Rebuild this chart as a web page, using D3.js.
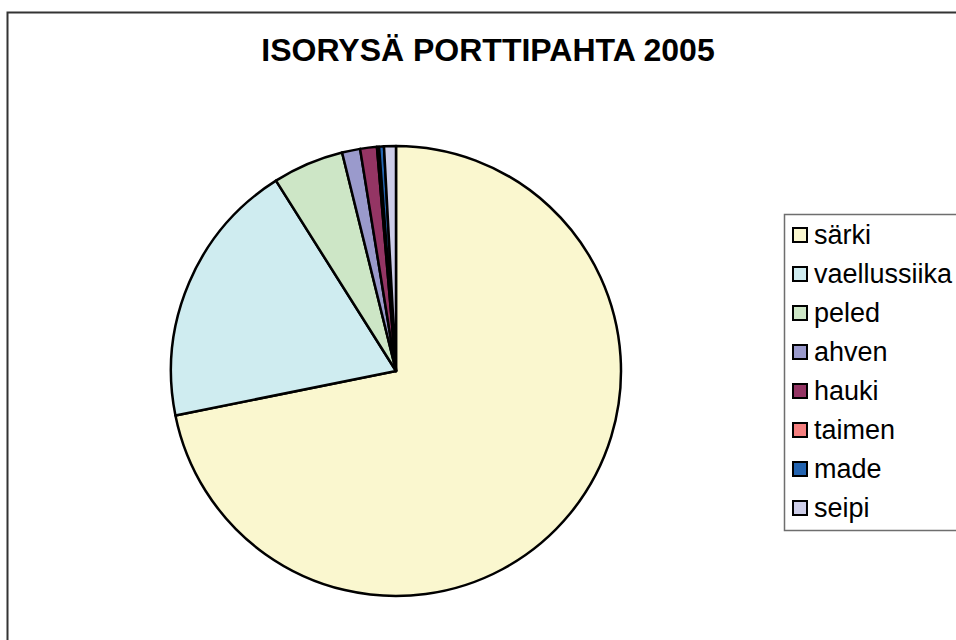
<!DOCTYPE html>
<html>
<head>
<meta charset="utf-8">
<script src="https://cdn.jsdelivr.net/npm/d3@7"></script>
<style>
  body { margin: 0; background: #fff; }
  svg { display: block; font-family: Arial, "Liberation Sans", sans-serif; }
</style>
</head>
<body>
<svg id="chart" width="956" height="640"></svg>
<script>
var title = "ISORYSÄ PORTTIPAHTA 2005";
var species = ["särki", "vaellussiika", "peled", "ahven", "hauki", "taimen", "made", "seipi"];
var shares = [71.8, 19.2, 5.1, 1.3, 1.2, 0.15, 0.35, 0.85];
var colors = ["#faf7cf", "#cfecf0", "#cde6c6", "#9a9acc", "#943564", "#f47f7f", "#2464b0", "#cdcde8"];

var svg = d3.select("#chart");

// outer chart frame (runs off the right and bottom edges)
svg.append("rect")
    .attr("x", 7.5).attr("y", 12.5)
    .attr("width", 1000).attr("height", 700)
    .attr("fill", "none")
    .attr("stroke", "#333")
    .attr("stroke-width", 2);

svg.append("text")
    .attr("x", 488).attr("y", 61)
    .attr("text-anchor", "middle")
    .attr("font-size", 32)
    .attr("font-weight", "bold")
    .text(title);

var data = species.map(function (d, i) { return { name: d, value: shares[i], color: colors[i] }; });

var pie = d3.pie().sort(null).value(function (d) { return d.value; });
var arc = d3.arc().innerRadius(0).outerRadius(225);

var g = svg.append("g").attr("transform", "translate(396,371)");

g.selectAll("path")
  .data(pie(data))
  .enter().append("path")
    .attr("d", arc)
    .attr("fill", function (d) { return d.data.color; })
    .attr("stroke", "#000")
    .attr("stroke-width", 2.5)
    .attr("stroke-linejoin", "round");

// legend
var legend = svg.append("g").attr("transform", "translate(784,214)");

legend.append("rect")
    .attr("x", 0.5).attr("y", 0.5)
    .attr("width", 300).attr("height", 316)
    .attr("fill", "#fff")
    .attr("stroke", "#6e6e6e")
    .attr("stroke-width", 1.5);

var item = legend.selectAll(".item")
  .data(data)
  .enter().append("g")
    .attr("class", "item")
    .attr("transform", function (d, i) { return "translate(0," + (21 + i * 39) + ")"; });

item.append("rect")
    .attr("x", 9).attr("y", -7)
    .attr("width", 14).attr("height", 14)
    .attr("fill", function (d) { return d.color; })
    .attr("stroke", "#000")
    .attr("stroke-width", 2);

item.append("text")
    .attr("x", 30).attr("y", 9)
    .attr("font-size", 27)
    .text(function (d) { return d.name; });
</script>
</body>
</html>
